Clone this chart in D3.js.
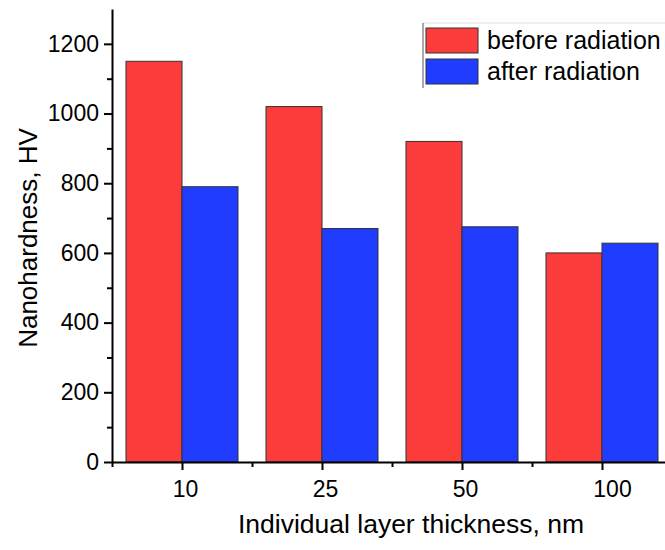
<!DOCTYPE html>
<html>
<head>
<meta charset="utf-8">
<script src="https://cdn.jsdelivr.net/npm/d3@7"></script>
<style>
  body { margin: 0; background: #fff; }
  text { font-family: "Liberation Sans", Arial, sans-serif; fill: #000; }
</style>
</head>
<body>
<svg id="chart" width="665" height="550"></svg>
<script>
// data
const categories = ['10', '25', '50', '100'];
const seriesNames = ['before radiation', 'after radiation'];
const before = [1150, 1020, 920, 600];
const after = [790, 670, 675, 628];
const yTicks = [0, 200, 400, 600, 800, 1000, 1200];
const yMinor = [100, 300, 500, 700, 900, 1100];

const colors = ['#fc3b3b', '#1f3cff'];
const svg = d3.select('#chart');

const x = d3.scaleLinear().domain([0.5, 4.5]).range([112, 672]);
const y = d3.scaleLinear().domain([0, 1300]).range([462, 9]);
const barW = x(1.4) - x(1);

// bars
const rows = categories.map((c, i) => ({i, vals: [before[i], after[i]]}));
const groups = svg.append('g').selectAll('g')
    .data(rows)
    .enter()
    .append('g');
groups.selectAll('rect')
    .data(d => d.vals.map((v, s) => ({i: d.i, s, v})))
    .enter()
    .append('rect')
    .attr('x', d => x(d.i + 1) + (d.s - 1) * barW)
    .attr('y', d => y(d.v))
    .attr('width', barW)
    .attr('height', d => y(0) - y(d.v))
    .attr('fill', d => colors[d.s])
    .attr('stroke', '#333')
    .attr('stroke-width', 1);

// y axis
const yAxis = svg.append('g')
    .attr('transform', `translate(${x(0.5)},0)`)
    .call(d3.axisLeft(y).tickValues(yTicks).tickFormat(d3.format('d'))
        .tickSize(8).tickPadding(5).tickSizeOuter(0));
yAxis.select('.domain').attr('stroke-width', 2);
yAxis.selectAll('.tick line').attr('stroke-width', 2);
yAxis.selectAll('text').style('font-size', '23px');
svg.append('g')
    .attr('transform', `translate(${x(0.5)},0)`)
    .call(d3.axisLeft(y).tickValues(yMinor).tickSize(5).tickFormat('').tickSizeOuter(0))
    .call(g => g.select('.domain').remove())
    .selectAll('line').attr('stroke', '#000').attr('stroke-width', 2);

// x axis
const xAxis = svg.append('g')
    .attr('transform', `translate(0,${y(0)})`)
    .call(d3.axisBottom(x).tickValues([1, 2, 3, 4]).tickFormat((d, i) => categories[i])
        .tickSize(8).tickPadding(11).tickSizeOuter(0));
xAxis.select('.domain').attr('stroke-width', 2);
xAxis.selectAll('.tick line').attr('stroke-width', 2);
xAxis.selectAll('text').style('font-size', '23px').attr('dx', (d, i) => i === 3 ? '10px' : '3px');
svg.append('g')
    .attr('transform', `translate(0,${y(0)})`)
    .call(d3.axisBottom(x).tickValues([0.5, 1.5, 2.5, 3.5]).tickSize(5).tickFormat('').tickSizeOuter(0))
    .call(g => g.select('.domain').remove())
    .selectAll('line').attr('stroke', '#000').attr('stroke-width', 2);

// axis titles
svg.append('text')
    .attr('transform', `translate(37,238) rotate(-90)`)
    .attr('text-anchor', 'middle')
    .style('font-size', '26px')
    .text('Nanohardness, HV');
svg.append('text')
    .attr('x', 411)
    .attr('y', 533)
    .attr('text-anchor', 'middle')
    .style('font-size', '26.5px')
    .text('Individual layer thickness, nm');

// legend
const legend = svg.append('g');
legend.append('line')
    .attr('x1', 423).attr('x2', 665).attr('y1', 23).attr('y2', 23)
    .attr('stroke', '#ddd');
legend.append('line')
    .attr('x1', 423).attr('x2', 423).attr('y1', 23).attr('y2', 88)
    .attr('stroke', '#555');
const items = legend.selectAll('g.item')
    .data(seriesNames)
    .enter()
    .append('g')
    .attr('transform', (d, i) => `translate(426,${28 + i * 31})`);
items.append('rect')
    .attr('width', 52).attr('height', 25)
    .attr('fill', (d, i) => colors[i])
    .attr('stroke', '#333');
items.append('text')
    .attr('x', 61).attr('y', 21)
    .style('font-size', '25px')
    .text(d => d);
</script>
</body>
</html>
